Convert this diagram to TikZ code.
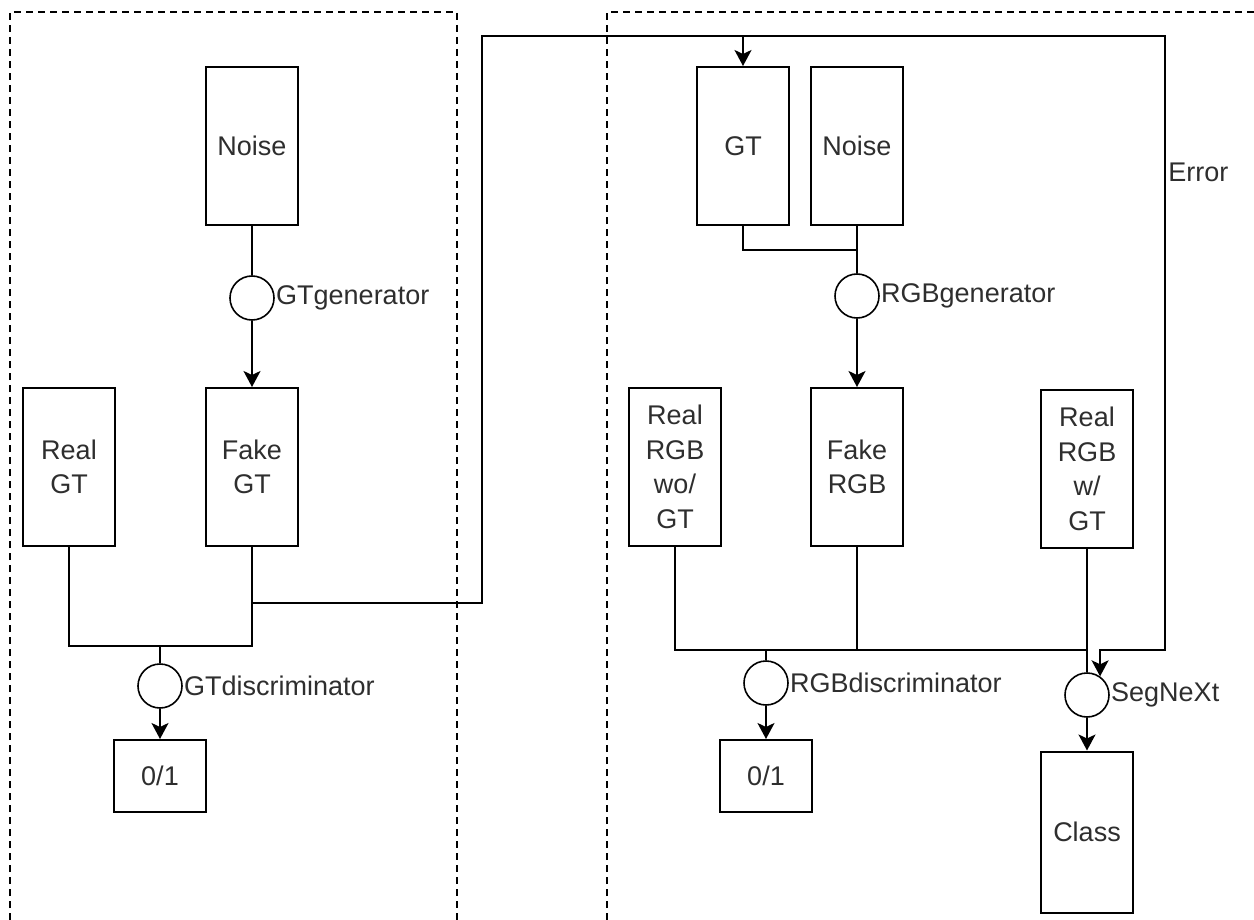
\documentclass[tikz,border=0pt]{standalone}
\usepackage{fontspec}
\setmainfont{Liberation Sans}
\usetikzlibrary{arrows.meta}

\tikzset{
  block/.style={draw,line width=1pt,minimum width=46pt,minimum height=79pt,
    align=center,inner sep=2pt},
  smallblock/.style={draw,line width=1pt,minimum width=46pt,minimum height=36pt},
  op/.style={draw,circle,line width=0.8pt,minimum size=22pt,inner sep=0pt},
  oplabel/.style={anchor=west,inner sep=0.5pt},
  wire/.style={line width=1pt},
  flow/.style={line width=1pt,-{Stealth[length=8pt,width=8.5pt,inset=2pt]}},
  frame/.style={dash pattern=on 3.5pt off 2.5pt,line width=0.9pt}
}

\begin{document}
\begin{tikzpicture}[x=0.5pt,y=-0.5pt,font=\fontsize{13.5}{17.25}\selectfont,
    every node/.append style={text=black!82}]
  \useasboundingbox (0,0) rectangle (1254,920);
  \draw[frame] (10,920) -- (10,12) -- (457,12) -- (457,920);
  \draw[frame] (607,920) -- (607,12) -- (1254,12);

  \node[block] (noise1) at (252,146) {Noise};
  \node[op] (gtgen) at (252,298) {};
  \node[oplabel] (gtgenlbl) at (gtgen.east) {GTgenerator};
  \node[block] (realgt) at (69,467) {Real\\GT};
  \node[block] (fakegt) at (252,467) {Fake\\GT};
  \node[op] (gtdis) at (160,686) {};
  \node[oplabel] (gtdislbl) at (gtdis.east) {GTdiscriminator};
  \node[smallblock] (out1) at (160,776) {0/1};

  \node[block] (gt2) at (743,146) {GT};
  \node[block] (noise2) at (857,146) {Noise};
  \node[op] (rgbgen) at (857,296) {};
  \node[oplabel] (rgbgenlbl) at (rgbgen.east) {RGBgenerator};
  \node[block] (realwo) at (675,467) {Real\\RGB\\wo/\\GT};
  \node[block] (fakergb) at (857,467) {Fake\\RGB};
  \node[block] (realw) at (1087,469) {Real\\RGB\\w/\\GT};
  \node[op] (rgbdis) at (766,683) {};
  \node[oplabel] (rgbdislbl) at (rgbdis.east) {RGBdiscriminator};
  \node[smallblock] (out2) at (766,776) {0/1};
  \node[op] (segnext) at (1087,695) {};
  \node[oplabel] (segnextlbl) at (segnext.east) {SegNeXt};
  \node[block,minimum height=80.5pt] (class) at (1087,832) {Class};
  \node[anchor=west,inner sep=1pt] (errlbl) at (1166,172) {Error};

  \coordinate (gtjoin) at (160,646);
  \coordinate (tap) at (252,603);
  \coordinate (errA) at (482,36);
  \coordinate (errB) at (1165,36);
  \coordinate (rgbjoin) at (857,250);
  \coordinate (rgbdisjoin) at (766,650);
  \coordinate (segjoin) at (1087,650);

  \draw[wire] (noise1) -- (gtgen);
  \draw[flow] (gtgen) -- (fakegt);
  \draw[wire] (realgt.south) |- (gtjoin) -| (fakegt.south);
  \draw[wire] (gtjoin) -- (gtdis);
  \draw[flow] (gtdis) -- (out1);

  \draw[flow] (tap) -| (errA) -- (errB) -- ++(0,614) -| (segnext.55);
  \draw[flow] (gt2.north |- errA) -- (gt2);

  \draw[wire] (gt2.south) |- (rgbjoin) -- (rgbgen);
  \draw[wire] (noise2) -- (rgbjoin);
  \draw[flow] (rgbgen) -- (fakergb);
  \draw[wire] (realwo.south) |- (segjoin);
  \draw[wire] (fakergb.south) -- (fakergb.south |- segjoin);
  \draw[wire] (realw) -- (segnext);
  \draw[wire] (rgbdisjoin) -- (rgbdis);
  \draw[flow] (rgbdis) -- (out2);
  \draw[flow] (segnext) -- (class);
\end{tikzpicture}
\end{document}
